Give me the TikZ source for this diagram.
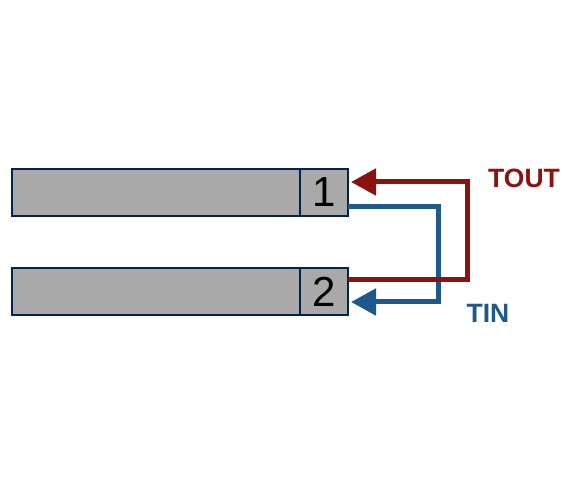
\documentclass[tikz,border=0pt]{standalone}
\usepackage{fontspec}
\setmainfont{Liberation Sans}
\usetikzlibrary{arrows.meta,positioning}
\definecolor{navy}{RGB}{0,36,82}
\definecolor{cellgray}{RGB}{168,169,168}
\definecolor{toutred}{RGB}{139,18,14}
\definecolor{tinblue}{RGB}{30,88,140}

\begin{document}
\begin{tikzpicture}[x=1pt,y=1pt,node distance=0pt,every node/.style={inner sep=0pt,outer sep=0pt},
 bar/.style={draw=navy,line width=2pt,fill=cellgray,minimum width=288pt,minimum height=47pt},
 cell/.style={bar,minimum width=48pt,font=\fontsize{42}{42}\selectfont},
 feed/.style={line width=5pt,-{Triangle[length=25pt,width=26pt]}},
 lbl/.style={font=\fontsize{26.5}{26.5}\selectfont\bfseries}]
\useasboundingbox (0,0) rectangle (576,482);
\node[bar] (bar1) at (156,289.5) {};
\node[cell,right=of bar1] (cell1) {1};
\node[bar] (bar2) at (156,190) {};
\node[cell,right=of bar2] (cell2) {2};
\draw[feed,tinblue]([yshift=-14.5pt]cell1.east)--++(90,0)|-([xshift=3pt,yshift=-10pt]cell2.east);
\draw[feed,toutred]([yshift=12pt]cell2.east)--++(119,0)|-([xshift=3pt,yshift=10.5pt]cell1.east);
\node[lbl,text=toutred] (tout) at (524,304) {TOUT};
\node[lbl,text=tinblue] (tin) at (488,169) {TIN};
\end{tikzpicture}
\end{document}
